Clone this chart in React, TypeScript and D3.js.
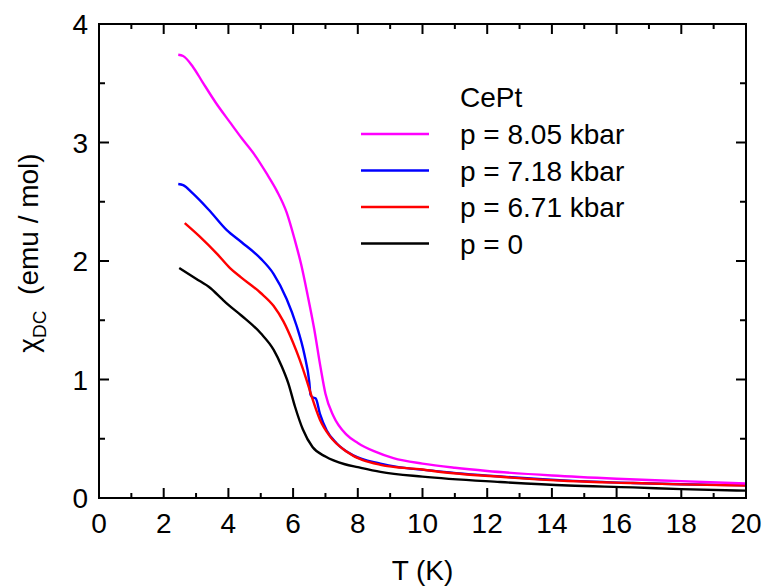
import React from 'react';
import * as d3 from 'd3';

// CePt DC susceptibility vs temperature
const t805 = [2.45, 2.6, 2.9, 3.2, 3.6, 4.05, 4.4, 4.8, 5.2, 5.5, 5.8, 6.05, 6.25, 6.45, 6.65, 6.85, 7.0, 7.25, 7.65, 8.0, 8.5, 9.1, 10.0, 11.0, 12.0, 14.0, 16.0, 18.0, 20.0];
const chi805 = [3.74, 3.73, 3.64, 3.51, 3.34, 3.17, 3.04, 2.9, 2.73, 2.59, 2.41, 2.18, 1.97, 1.71, 1.43, 1.1, 0.88, 0.69, 0.535, 0.465, 0.395, 0.337, 0.29, 0.255, 0.228, 0.19, 0.163, 0.142, 0.122];

const t718 = [2.45, 2.6, 2.9, 3.4, 3.95, 4.4, 5.0, 5.4, 5.8, 6.1, 6.35, 6.5, 6.54, 6.6, 6.7, 6.83, 7.04, 7.35, 7.86, 8.7, 10.5, 12.5, 14.5, 16.5, 18, 20];
const chi718 = [2.65, 2.64, 2.57, 2.43, 2.26, 2.16, 2.02, 1.89, 1.68, 1.46, 1.21, 0.98, 0.87, 0.85, 0.84, 0.71, 0.57, 0.46, 0.36, 0.29, 0.225, 0.18, 0.147, 0.127, 0.116, 0.107];

const t671 = [2.65, 3.1, 3.65, 4.05, 4.4, 5.0, 5.4, 5.7, 6.0, 6.2, 6.4, 6.57, 6.83, 7.14, 7.66, 8.7, 10.0, 10.5, 12.5, 14.5, 16.5, 18, 20];
const chi671 = [2.32, 2.21, 2.06, 1.94, 1.86, 1.73, 1.62, 1.49, 1.31, 1.17, 1.01, 0.86, 0.66, 0.52, 0.39, 0.28, 0.24, 0.222, 0.177, 0.143, 0.126, 0.115, 0.105];

const t0 = [2.48, 3.0, 3.45, 3.8, 4.0, 4.4, 5.0, 5.4, 5.65, 5.85, 6.06, 6.3, 6.6, 7.0, 7.6, 8.0, 8.7, 10.0, 12.4, 14.5, 16.5, 18, 20];
const chi0 = [1.94, 1.85, 1.77, 1.68, 1.63, 1.54, 1.39, 1.25, 1.11, 0.97, 0.77, 0.58, 0.43, 0.35, 0.285, 0.26, 0.22, 0.18, 0.135, 0.105, 0.09, 0.075, 0.062];

const legendTitle = 'CePt';
const seriesNames = ['p = 8.05 kbar', 'p = 7.18 kbar', 'p = 6.71 kbar', 'p = 0'];
const seriesColors = ['#ff00ff', '#0000ff', '#ff0000', '#000000'];
const xTicks = [0, 2, 4, 6, 8, 10, 12, 14, 16, 18, 20];
const yTicks = [0, 1, 2, 3, 4];

const W = 763;
const H = 587;
const margin = { top: 24, right: 17, bottom: 89, left: 99 };
const font = 'Arial, "Liberation Sans", Helvetica, sans-serif';
const fs = 28;

export default function App() {
  const x = d3.scaleLinear().domain([0, 20]).range([margin.left, W - margin.right]);
  const y = d3.scaleLinear().domain([0, 4]).range([H - margin.bottom, margin.top]);
  const x0 = x.range()[0], x1 = x.range()[1];
  const y0 = y.range()[0], y1 = y.range()[1];

  const line = d3.line<[number, number]>()
    .x(d => x(d[0]))
    .y(d => y(d[1]))
    .curve(d3.curveMonotoneX);

  const zip = (a: number[], b: number[]) => a.map((v, i) => [v, b[i]] as [number, number]);
  const series = [zip(t805, chi805), zip(t718, chi718), zip(t671, chi671), zip(t0, chi0)];
  const drawOrder = [3, 1, 2, 0];

  const xMinor = d3.range(1, 20, 2);
  const yMinor = d3.range(0.5, 4, 1);

  const legendRows = [134, 170.5, 207, 243.5];

  return (
    <svg width={W} height={H} style={{ position: 'absolute', left: 0, top: 0, background: '#fff' }} fontFamily={font}>
      {/* curves */}
      {drawOrder.map(i => (
        <path key={i} d={line(series[i]) || ''} fill="none" stroke={seriesColors[i]} strokeWidth={2.4} />
      ))}

      {/* frame */}
      <rect x={x0} y={y1} width={x1 - x0} height={y0 - y1} fill="none" stroke="#000" strokeWidth={2} />

      {/* x ticks, bottom and top, inward */}
      {xTicks.map(t => (
        <g key={'xt' + t}>
          <line x1={x(t)} x2={x(t)} y1={y0} y2={y0 - 10} stroke="#000" strokeWidth={2} />
          <line x1={x(t)} x2={x(t)} y1={y1} y2={y1 + 10} stroke="#000" strokeWidth={2} />
          <text x={x(t)} y={533} fontSize={fs} textAnchor="middle">{t}</text>
        </g>
      ))}
      {xMinor.map(t => (
        <g key={'xm' + t}>
          <line x1={x(t)} x2={x(t)} y1={y0} y2={y0 - 5} stroke="#000" strokeWidth={2} />
          <line x1={x(t)} x2={x(t)} y1={y1} y2={y1 + 5} stroke="#000" strokeWidth={2} />
        </g>
      ))}

      {/* y ticks, left and right, inward */}
      {yTicks.map(t => (
        <g key={'yt' + t}>
          <line x1={x0} x2={x0 + 10} y1={y(t)} y2={y(t)} stroke="#000" strokeWidth={2} />
          <line x1={x1} x2={x1 - 10} y1={y(t)} y2={y(t)} stroke="#000" strokeWidth={2} />
          <text x={88} y={y(t) + 10} fontSize={fs} textAnchor="end">{t}</text>
        </g>
      ))}
      {yMinor.map(t => (
        <g key={'ym' + t}>
          <line x1={x0} x2={x0 + 6} y1={y(t)} y2={y(t)} stroke="#000" strokeWidth={2} />
          <line x1={x1} x2={x1 - 6} y1={y(t)} y2={y(t)} stroke="#000" strokeWidth={2} />
        </g>
      ))}

      {/* axis titles */}
      <text x={(x0 + x1) / 2} y={580} fontSize={fs} textAnchor="middle">T (K)</text>
      <text transform={`translate(38,${(y0 + y1) / 2 - 8}) rotate(-90)`} fontSize={fs} textAnchor="middle">
        <tspan>χ</tspan>
        <tspan fontSize={19} dy={8}>DC</tspan>
        <tspan dy={-8}>{'\u00a0\u00a0(emu / mol)'}</tspan>
      </text>

      {/* legend */}
      <text x={460} y={107} fontSize={fs}>{legendTitle}</text>
      {seriesNames.map((name, i) => (
        <g key={name}>
          <line x1={361} x2={429} y1={legendRows[i]} y2={legendRows[i]} stroke={seriesColors[i]} strokeWidth={2.4} />
          <text x={460} y={legendRows[i] + 10} fontSize={fs}>{name}</text>
        </g>
      ))}
    </svg>
  );
}
